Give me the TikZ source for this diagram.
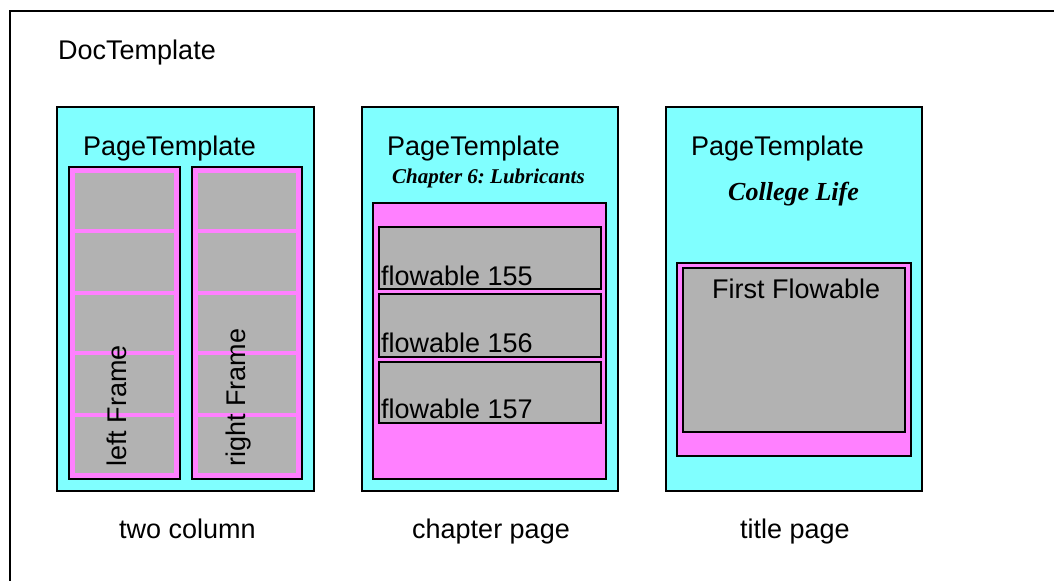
\documentclass[tikz,border=0pt]{standalone}
\usepackage{fontspec}
\setmainfont{Liberation Sans}
\newfontfamily\serifbi{Liberation Serif}
\definecolor{pcyan}{RGB}{128,255,255}
\definecolor{pmag}{RGB}{255,128,255}
\definecolor{pgray}{RGB}{178,178,178}
\frenchspacing
\begin{document}
\begin{tikzpicture}[x=1pt,y=-1pt,
  lbl/.style={inner sep=0pt, anchor=base west, font=\fontsize{27}{31}\selectfont},
  ttl/.style={inner sep=0pt, anchor=base west, font=\fontsize{#1}{#1}\serifbi\bfseries\itshape},
  pagebox/.style={draw=black, line width=2.2pt, fill=pcyan},
  framebox/.style={draw=black, line width=2.2pt, fill=pmag},
  flowbox/.style={draw=black, line width=2.2pt, fill=pgray},
  cell/.style={fill=pgray}]
\useasboundingbox (0,0) rectangle (1054,581);
\fill[white] (0,0) rectangle (1054,581);
% DocTemplate frame
\draw[line width=2.2pt] (1054,11) -- (10,11) -- (10,581);
\node[lbl] (doc) at (58,59) {DocTemplate};
% page templates
\draw[pagebox] (57,107) rectangle (314,491);
\draw[pagebox] (362,107) rectangle (618,491);
\draw[pagebox] (666,107) rectangle (922,491);
\node[lbl] (pt1) at (83,155) {PageTemplate};
\node[lbl] (pt2) at (387,155) {PageTemplate};
\node[lbl] (pt3) at (691,155) {PageTemplate};
% two column frames
\draw[framebox] (69,167) rectangle (180,479);
\draw[framebox] (192,167) rectangle (302,479);
\foreach \ya/\yb in {173/229,233/291,295/351,355/413,417/473}{
  \fill[cell] (75,\ya) rectangle (174,\yb);
  \fill[cell] (198,\ya) rectangle (296,\yb);
}
\node[lbl, rotate=90] (lf) at (126,467) {left Frame};
\node[lbl, rotate=90] (rf) at (245,467) {right Frame};
% chapter page
\node[ttl=21] (chap) at (392,183) {Chapter 6: Lubricants};
\draw[framebox] (373,203) rectangle (606,479);
\draw[flowbox] (379,227) rectangle (601,289);
\draw[flowbox] (379,294) rectangle (601,357);
\draw[flowbox] (379,362) rectangle (601,423);
\node[lbl] (f155) at (381,285) {flowable 155};
\node[lbl] (f156) at (381,352) {flowable 156};
\node[lbl] (f157) at (381,418) {flowable 157};
% title page
\node[ttl=26] (coll) at (728,200) {College Life};
\draw[framebox] (677,263) rectangle (911,456);
\draw[flowbox] (683,268) rectangle (905,432);
\node[lbl] (first) at (712,298) {First Flowable};
% captions
\node[lbl] (c1) at (119,538) {two column};
\node[lbl] (c2) at (412,538) {chapter page};
\node[lbl] (c3) at (740,538) {title page};
\end{tikzpicture}
\end{document}
